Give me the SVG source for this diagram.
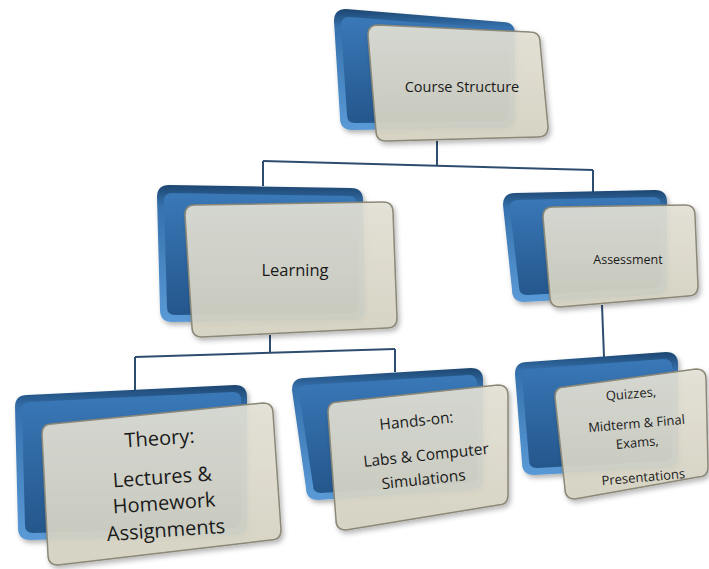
<svg xmlns="http://www.w3.org/2000/svg" width="709" height="569" viewBox="0 0 709 569">
<defs>
<linearGradient id="blueOuter" x1="0" y1="0" x2="0" y2="1">
<stop offset="0" stop-color="#1d4670"/>
<stop offset="0.15" stop-color="#3571ad"/>
<stop offset="1" stop-color="#5a9ad6"/>
</linearGradient>
<linearGradient id="blueInner" x1="0" y1="0" x2="0" y2="1">
<stop offset="0" stop-color="#3a78b8"/>
<stop offset="1" stop-color="#24578c"/>
</linearGradient>
<linearGradient id="beige" x1="0" y1="0" x2="0" y2="1">
<stop offset="0" stop-color="#e4e2d6"/>
<stop offset="1" stop-color="#d6d3c2"/>
</linearGradient>
<filter id="sh" x="-10%" y="-10%" width="130%" height="130%">
<feDropShadow dx="2" dy="3" stdDeviation="2.5" flood-color="#000" flood-opacity="0.3"/>
</filter>
</defs>
<style>
.bo{fill:url(#blueOuter);filter:url(#sh)}
.bi{fill:url(#blueInner)}
.fr{fill:url(#beige);fill-opacity:0.9;stroke:#8c8877;stroke-width:1.5;filter:url(#sh)}
.t{font-family:"Open Sans","Liberation Sans",sans-serif;fill:#1a1a1a;text-anchor:middle}
.c{fill:none;stroke:#2e4d6e;stroke-width:2}
</style>
<g id="connectors">
<line class="c" x1="437" y1="141" x2="437" y2="165"/>
<line class="c" x1="263" y1="161" x2="593" y2="170"/>
<line class="c" x1="263" y1="161" x2="263" y2="186"/>
<line class="c" x1="593" y1="170" x2="593" y2="192"/>
<line class="c" x1="270" y1="335" x2="270" y2="353"/>
<line class="c" x1="135" y1="357" x2="395" y2="349"/>
<line class="c" x1="135" y1="357" x2="135" y2="390"/>
<line class="c" x1="395" y1="349" x2="395" y2="372"/>
<line class="c" x1="602" y1="305" x2="604" y2="357"/>
</g>
<g id="course-structure">
<path class="bo" d="M346,9 L503,22 Q515,22 515,34 L515,116 Q515,128 503,128 L352,130 Q340,130 340,118 L334,21 Q334,9 346,9 Z"/>
<path class="bi" d="M349,17 L501,29 Q509,29 509,37 L509,113 Q509,121 501,121 L355,123 Q347,123 347,115 L341,25 Q341,17 349,17 Z"/>
<path class="fr" d="M378,25 L530,32 Q540,32 540,42 L548,127 Q548,137 538,137 L386,141 Q376,141 376,131 L368,35 Q368,25 378,25 Z"/>
<text class="t" x="462" y="92" font-size="14.5">Course Structure</text>
</g>
<g id="learning">
<path class="bo" d="M169,185 L351,188 Q363,188 363,200 L365,308 Q365,320 353,320 L172,322 Q160,322 160,310 L157,197 Q157,185 169,185 Z"/>
<path class="bi" d="M172,193 L349,196 Q357,196 357,204 L359,305 Q359,313 351,313 L175,315 Q167,315 167,307 L164,201 Q164,193 172,193 Z"/>
<path class="fr" d="M195,205 L383,202 Q393,202 393,212 L397,318 Q397,328 387,328 L202,337 Q192,337 192,327 L185,215 Q185,205 195,205 Z"/>
<text class="t" x="295" y="276" font-size="16.5">Learning</text>
</g>
<g id="assessment">
<path class="bo" d="M515,193 L655,190 Q667,190 667,202 L667,283 Q667,295 655,295 L524,302 Q512,302 512,290 L503,205 Q503,193 515,193 Z"/>
<path class="bi" d="M518,200 L653,197 Q661,197 661,205 L661,280 Q661,288 653,288 L527,295 Q519,295 519,287 L510,208 Q510,200 518,200 Z"/>
<path class="fr" d="M553,207 L685,205 Q695,205 695,215 L698,286 Q698,296 688,296 L560,307 Q550,307 550,297 L543,217 Q543,207 553,207 Z"/>
<text class="t" x="628" y="264" font-size="12.5">Assessment</text>
</g>
<g id="theory">
<path class="bo" d="M27,395 L235,385 Q247,385 247,397 L247,523 Q247,535 235,535 L30,540 Q18,540 18,528 L15,407 Q15,395 27,395 Z"/>
<path class="bi" d="M30,402 L233,392 Q241,392 241,400 L241,520 Q241,528 233,528 L33,533 Q25,533 25,525 L22,410 Q22,402 30,402 Z"/>
<path class="fr" d="M52,424 L263,403 Q273,403 273,413 L281,530 Q281,540 271,540 L58,565 Q48,565 48,555 L42,434 Q42,424 52,424 Z"/>
<g transform="rotate(-4 163 488)">
<text class="t" x="163" y="445" font-size="20">Theory:</text>
<text class="t" x="163" y="484" font-size="20">Lectures &amp;</text>
<text class="t" x="163" y="510" font-size="20">Homework</text>
<text class="t" x="163" y="537" font-size="20">Assignments</text>
</g>
</g>
<g id="hands-on">
<path class="bo" d="M304,378 L471,368 Q483,368 483,380 L483,478 Q483,490 471,490 L318,500 Q306,500 306,488 L292,390 Q292,378 304,378 Z"/>
<path class="bi" d="M307,385 L469,375 Q477,375 477,383 L477,475 Q477,483 469,483 L321,493 Q313,493 313,485 L299,393 Q299,385 307,385 Z"/>
<path class="fr" d="M338,402 L498,385 Q508,385 508,395 L508,495 Q508,505 498,505 L346,530 Q336,530 336,520 L328,412 Q328,402 338,402 Z"/>
<g transform="rotate(-6 420 455)">
<text class="t" x="420" y="426" font-size="15.5">Hands-on:</text>
<text class="t" x="426" y="461" font-size="15.5">Labs &amp; Computer</text>
<text class="t" x="421" y="485" font-size="15.5">Simulations</text>
</g>
</g>
<g id="quizzes">
<path class="bo" d="M527,362 L666,352 Q678,352 678,364 L678,456 Q678,468 666,468 L534,475 Q522,475 522,463 L515,374 Q515,362 527,362 Z"/>
<path class="bi" d="M530,369 L664,359 Q672,359 672,367 L672,453 Q672,461 664,461 L537,468 Q529,468 529,460 L522,377 Q522,369 530,369 Z"/>
<path class="fr" d="M565,387 L696,369 Q706,369 706,379 L708,467 Q708,477 698,477 L575,499 Q565,499 565,489 L555,397 Q555,387 565,387 Z"/>
<g transform="rotate(-5 638 440)">
<text class="t" x="635" y="398" font-size="13">Quizzes,</text>
<text class="t" x="638" y="428" font-size="13">Midterm &amp; Final</text>
<text class="t" x="637" y="447" font-size="13">Exams,</text>
<text class="t" x="640" y="482" font-size="13">Presentations</text>
</g>
</g>
</svg>
